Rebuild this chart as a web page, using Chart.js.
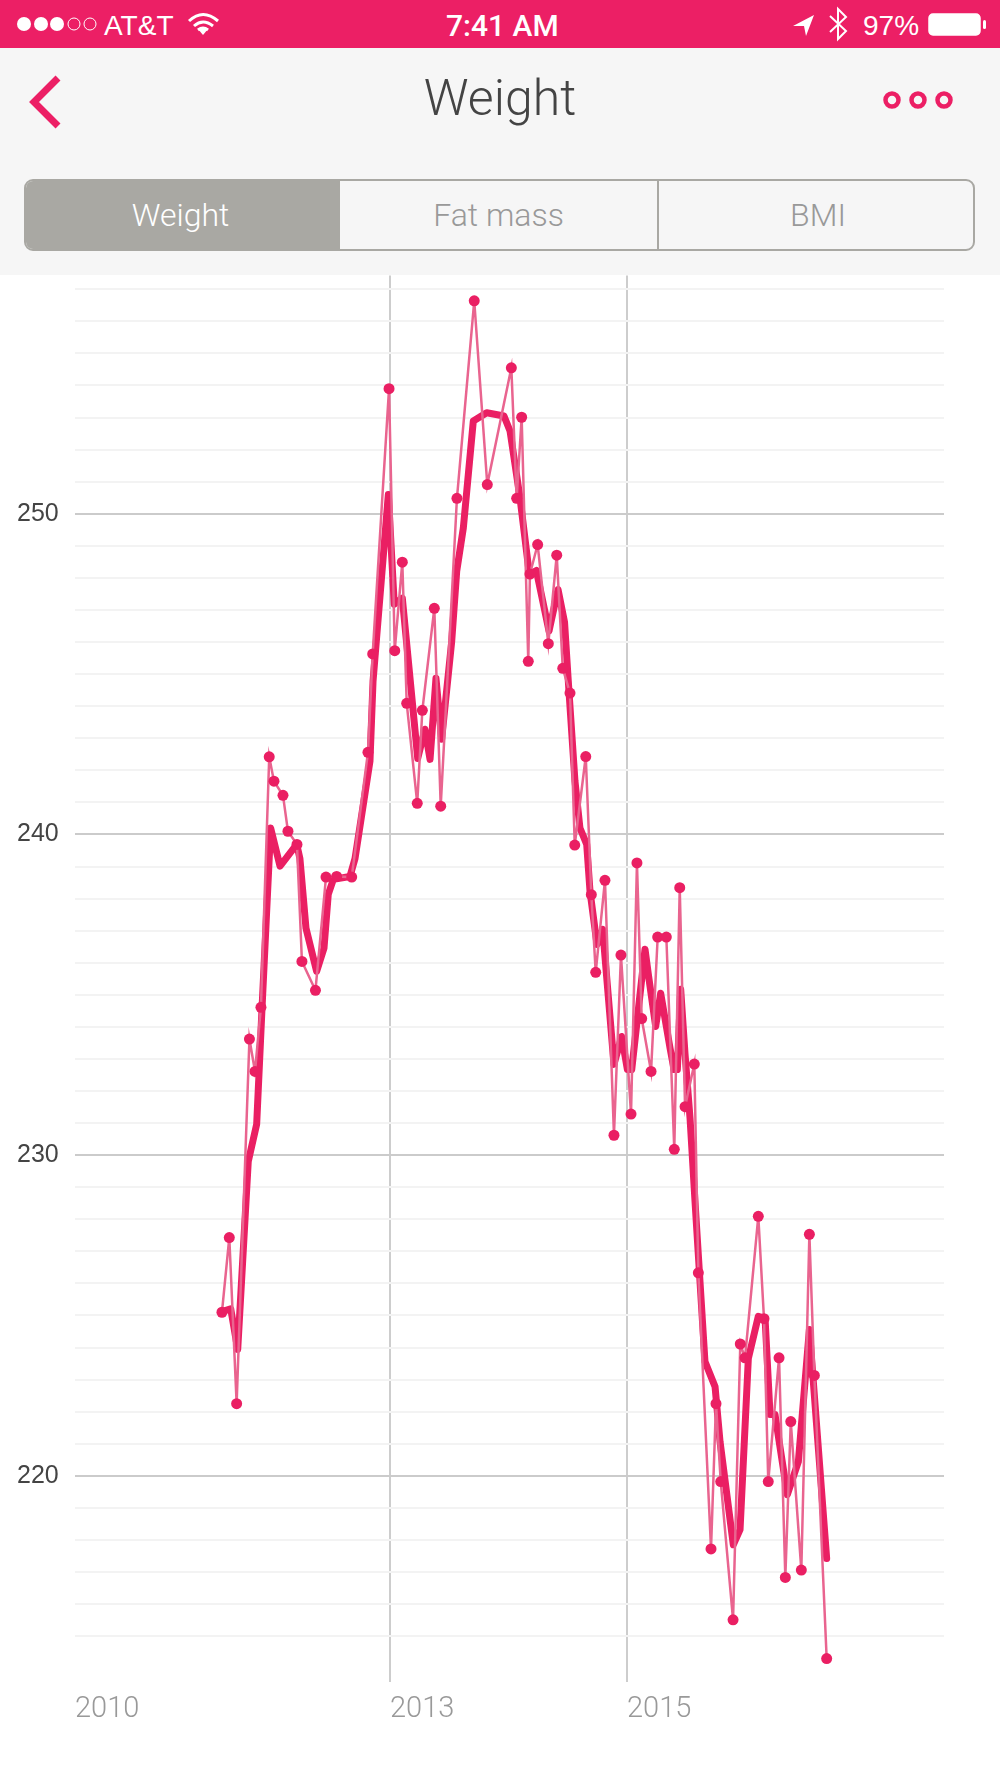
<!DOCTYPE html>
<html>
<head>
<meta charset="utf-8">
<title>Weight</title>
<script src="https://cdn.jsdelivr.net/npm/chart.js@4"></script>
<style>
  html, body { margin: 0; padding: 0; background: #fff; }
  #page { position: relative; width: 1000px; height: 1778px; overflow: hidden; font-family: "Liberation Sans", sans-serif; }
  #status { position: absolute; left: 0; top: 0; width: 1000px; height: 48px; background: #ec1f65; color: #fff; font-size: 28px; }
  #status span { position: absolute; top: 10px; line-height: 32px; }
  #nav { position: absolute; left: 0; top: 48px; width: 1000px; height: 227px; background: #f6f6f6; }
  #title { position: absolute; left: 0; width: 1000px; top: 21px; text-align: center; font: 300 50px Roboto, sans-serif; color: #444; line-height: 58px; }
  #tabs { position: absolute; left: 24px; top: 131px; width: 951px; height: 72px; box-sizing: border-box; border: 2.5px solid #a9a8a3; border-radius: 9px; display: flex; font: 300 32px Roboto, sans-serif; color: #999; overflow: hidden; }
  #tabs div { display: flex; align-items: center; justify-content: center; box-sizing: border-box; }
  #tabs .on { width: 314px; background: #a9a8a3; color: #fff; padding-right: 5px; }
  #tabs .mid { width: 319px; border-right: 2.5px solid #a9a8a3; }
  #tabs .end { flex: 1; padding-left: 4px; }
  svg { position: absolute; left: 0; top: 0; }
  #weightChart { position: absolute; left: 0; top: 270px; }
</style>
</head>
<body>
<div id="page">
  <div id="status">
    <svg width="1000" height="48">
      <circle cx="24" cy="24" r="7" fill="#fff"/>
      <circle cx="41" cy="24" r="7" fill="#fff"/>
      <circle cx="57" cy="24" r="7" fill="#fff"/>
      <circle cx="74" cy="24" r="6" fill="none" stroke="#fff" stroke-width="1"/>
      <circle cx="90" cy="24" r="6" fill="none" stroke="#fff" stroke-width="1"/>
      <path d="M189 21 Q203 8 218 21 M194 26 Q203 18 213 26 M198 30 Q203 26 208 30" fill="none" stroke="#fff" stroke-width="3"/>
      <path d="M203 35 L198 29 L208 29 Z" fill="#fff"/>
      <path d="M793 26 L814 15 L806 36 L804 26 Z" fill="#fff"/>
      <path d="M830 16 L846 31 L838 39 L838 9 L846 17 L830 32" fill="none" stroke="#fff" stroke-width="2"/>
      <rect x="929" y="14" width="51" height="21" rx="4" fill="#fff" stroke="#fff" stroke-width="1.5"/>
      <rect x="983" y="20" width="3" height="9" rx="1.5" fill="#fff"/>
    </svg>
    <span style="left:104px">AT&amp;T</span>
    <span style="left:446px;font:500 30px/32px Roboto,sans-serif">7:41 AM</span>
    <span style="left:863px">97%</span>
  </div>
  <div id="nav">
    <svg width="1000" height="227">
      <polyline points="58,30 34,54 58,78" fill="none" stroke="#ec1f65" stroke-width="7"/>
      <circle cx="892" cy="52" r="6.5" fill="none" stroke="#ec1f65" stroke-width="4.5"/>
      <circle cx="918" cy="52" r="6.5" fill="none" stroke="#ec1f65" stroke-width="4.5"/>
      <circle cx="944" cy="52" r="6.5" fill="none" stroke="#ec1f65" stroke-width="4.5"/>
    </svg>
    <div id="title">Weight</div>
    <div id="tabs">
      <div class="on">Weight</div>
      <div class="mid">Fat mass</div>
      <div class="end">BMI</div>
    </div>
  </div>
  <canvas id="weightChart" width="1000" height="1508"></canvas>
</div>

<script>
// Single measurements (thin line with dots)
const pointYears = [2011.582, 2011.644, 2011.706, 2011.814, 2011.861, 2011.911, 2011.981, 2012.021, 2012.097, 2012.139,
    2012.215, 2012.257, 2012.371, 2012.460, 2012.550, 2012.677, 2012.814, 2012.854, 2012.992, 2013.040,
    2013.104, 2013.141, 2013.230, 2013.273, 2013.374, 2013.428, 2013.565, 2013.711, 2013.821, 2014.024,
    2014.069, 2014.111, 2014.167, 2014.181, 2014.246, 2014.336, 2014.407, 2014.458, 2014.519, 2014.559,
    2014.652, 2014.699, 2014.736, 2014.814, 2014.890, 2014.949, 2015.034, 2015.084, 2015.124, 2015.203,
    2015.259, 2015.332, 2015.399, 2015.445, 2015.490, 2015.568, 2015.602, 2015.709, 2015.751, 2015.791,
    2015.895, 2015.956, 2015.996, 2016.108, 2016.156, 2016.192, 2016.283, 2016.336, 2016.382, 2016.471,
    2016.539, 2016.581, 2016.685];
const pointWeights = [225.10, 227.43, 222.25, 233.62, 232.61, 234.61, 242.42, 241.66, 241.22, 240.10,
    239.69, 236.04, 235.14, 238.67, 238.69, 238.67, 242.56, 245.63, 253.90, 245.73,
    248.49, 244.09, 240.97, 243.87, 247.05, 240.88, 250.48, 256.64, 250.91, 254.55,
    250.48, 253.01, 245.40, 248.12, 249.04, 245.95, 248.71, 245.18, 244.41, 239.67,
    242.43, 238.12, 235.70, 238.57, 230.62, 236.24, 231.28, 239.11, 234.26, 232.61,
    236.80, 236.80, 230.18, 238.34, 231.51, 232.84, 226.33, 217.72, 222.25, 219.82,
    215.51, 224.11, 223.68, 228.09, 224.90, 219.82, 223.68, 216.83, 221.69, 217.06,
    227.53, 223.13, 214.30];

// Trend (thick line)
const trendYears = [2011.582, 2011.656, 2011.715, 2011.804, 2011.875, 2011.920, 2011.993, 2012.072, 2012.213, 2012.240,
    2012.291, 2012.381, 2012.443, 2012.479, 2012.522, 2012.662, 2012.705, 2012.831, 2012.857, 2012.986,
    2013.036, 2013.104, 2013.234, 2013.295, 2013.338, 2013.388, 2013.436, 2013.521, 2013.563, 2013.619,
    2013.703, 2013.816, 2013.962, 2014.013, 2014.097, 2014.176, 2014.235, 2014.342, 2014.418, 2014.473,
    2014.502, 2014.561, 2014.603, 2014.660, 2014.688, 2014.747, 2014.795, 2014.890, 2014.955, 2015.003,
    2015.040, 2015.152, 2015.180, 2015.242, 2015.284, 2015.363, 2015.397, 2015.425, 2015.453, 2015.490,
    2015.532, 2015.574, 2015.658, 2015.743, 2015.785, 2015.897, 2015.954, 2016.024, 2016.108, 2016.165,
    2016.207, 2016.249, 2016.353, 2016.446, 2016.539, 2016.685];
const trendWeights = [225.12, 225.21, 223.94, 229.80, 230.96, 234.57, 240.20, 239.01, 239.69, 239.25,
    237.08, 235.73, 236.45, 238.13, 238.60, 238.69, 239.25, 242.28, 244.78, 250.60,
    247.18, 247.37, 242.37, 243.28, 242.34, 244.87, 242.97, 246.03, 248.21, 249.56,
    252.89, 253.15, 253.05, 252.58, 250.50, 248.11, 248.23, 246.34, 247.64, 246.62,
    244.93, 241.66, 240.20, 239.69, 238.22, 236.57, 237.04, 232.83, 233.70, 232.67,
    232.67, 236.42, 235.64, 234.01, 235.05, 233.34, 232.67, 232.67, 235.17, 233.14,
    231.15, 228.55, 223.56, 222.78, 221.07, 217.85, 218.32, 223.66, 224.97, 224.91,
    221.91, 221.91, 219.41, 220.44, 224.56, 217.42];

// The picture's year axis is not even: the 2010 label sits much closer than its real distance
const xTickValues = [2010.342, 2013, 2015];
const xTickLabels = ['2010', '2013', '2015'];
const yLabelled = [220, 230, 240, 250];
const yGridFrom = 215;
const yGridTo = 257;

const pink = '#ea1f63';
const thinPink = '#e9648f';

function toPoints(xs, ys) {
    return xs.map((x, i) => ({ x: x, y: ys[i] }));
}

const config = {
    type: 'line',
    data: {
        datasets: [{
            label: 'Measurements',
            data: toPoints(pointYears, pointWeights),
            borderColor: thinPink,
            borderWidth: 2.5,
            pointRadius: 5.5,
            pointBackgroundColor: pink,
            pointBorderWidth: 0,
            tension: 0
        }, {
            label: 'Trend',
            data: toPoints(trendYears, trendWeights),
            borderColor: pink,
            borderWidth: 7,
            borderJoinStyle: 'round',
            borderCapStyle: 'round',
            pointRadius: 0,
            tension: 0
        }]
    },
    options: {
        responsive: false,
        animation: false,
        layout: { padding: { left: 17, right: 56, top: 0, bottom: 0 } },
        plugins: { legend: { display: false }, tooltip: { enabled: false } },
        scales: {
            x: {
                type: 'linear',
                min: 2010.342,
                max: 2017.675,
                afterBuildTicks: function(scale) {
                    scale.ticks = xTickValues.map(v => ({ value: v }));
                },
                afterFit: function(scale) {
                    scale.height = 96;
                    scale.paddingLeft = 0;
                    scale.paddingRight = 0;
                },
                border: { display: false },
                grid: {
                    drawTicks: false,
                    lineWidth: 2,
                    color: ctx => (ctx.tick && ctx.tick.value === xTickValues[0]) ? 'rgba(0,0,0,0)' : '#cdcdcd'
                },
                ticks: {
                    autoSkip: false,
                    maxRotation: 0,
                    align: 'start',
                    padding: 10,
                    color: '#999',
                    font: { family: 'Roboto', weight: '300', size: 29 },
                    callback: function(value) {
                        return xTickLabels[xTickValues.indexOf(value)];
                    }
                }
            },
            y: {
                type: 'linear',
                min: 213.57,
                max: 257.43,
                afterBuildTicks: function(scale) {
                    const ticks = [];
                    for (let v = yGridFrom; v <= yGridTo; v++) ticks.push({ value: v });
                    scale.ticks = ticks;
                },
                afterFit: function(scale) {
                    scale.width = 58;
                    scale.paddingTop = 0;
                    scale.paddingBottom = 0;
                },
                border: { display: false },
                grid: {
                    drawTicks: false,
                    lineWidth: 2,
                    color: ctx => (ctx.tick && yLabelled.includes(ctx.tick.value)) ? '#cbcbcb' : '#f3f3f3'
                },
                ticks: {
                    autoSkip: false,
                    crossAlign: 'far',
                    padding: 0,
                    color: '#444',
                    font: { family: 'Liberation Sans', size: 25 },
                    callback: function(value) {
                        return yLabelled.includes(value) ? String(value) : '';
                    }
                }
            }
        }
    }
};

document.addEventListener('DOMContentLoaded', function() {
    const ctx = document.getElementById('weightChart').getContext('2d');
    new Chart(ctx, config);
});
</script>
</body>
</html>
